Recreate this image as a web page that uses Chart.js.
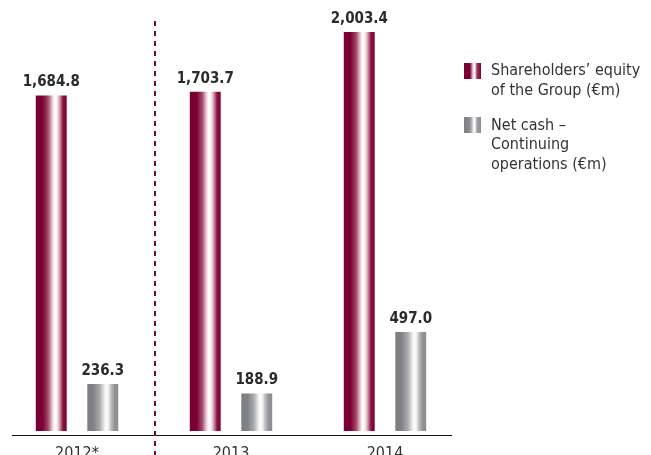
<!DOCTYPE html>
<html>
<head>
<meta charset="utf-8">
<script src="https://cdn.jsdelivr.net/npm/chart.js@4.4.0/dist/chart.umd.min.js"></script>
<style>
  body { margin: 0; background: #fff; }
  #wrap { position: relative; width: 651px; height: 455px; overflow: hidden; }
  .legend {
    position: absolute; left: 464px; top: 60px;
    font-family: "DejaVu Sans Condensed", "Liberation Sans Narrow", sans-serif;
    font-size: 16px; line-height: 19.5px; color: #333;
  }
  .legend .item { position: relative; padding-left: 27px; margin-bottom: 15.5px; white-space: nowrap; }
  .legend .swatch { position: absolute; left: 0; top: 2.5px; width: 17px; height: 16px; }
  .swatch.equity { background: linear-gradient(to right, #7a0034 0%, #7a0034 35%, #e9c6d2 52%, #fff 60%, #fff 64%, #a0385c 76%, #7a0034 100%); }
  .swatch.cash { background: linear-gradient(to right, #7d7e82 0%, #8c8d90 35%, #dcdcdc 52%, #fff 60%, #fff 64%, #a2a3a6 76%, #8a8b8e 100%); }
</style>
</head>
<body>
<div id="wrap">
  <canvas id="equityChart" width="651" height="455"></canvas>
  <div class="legend">
    <div class="item"><span class="swatch equity"></span>Shareholders’ equity<br>of the Group (€m)</div>
    <div class="item"><span class="swatch cash"></span>Net cash –<br>Continuing<br>operations (€m)</div>
  </div>
</div>
<script>
const years = ['2012*', '2013', '2014'];
const equity = [1684.8, 1703.7, 2003.4];
const netCash = [236.3, 188.9, 497.0];

const FONT = '"DejaVu Sans Condensed", "Liberation Sans Narrow", sans-serif';

// Horizontal shading so the bars look like cylinders
const maroonStops = [[0, '#7a0034'], [0.22, '#7a0034'], [0.4, '#a24a6a'], [0.52, '#e2bcc9'], [0.6, '#ffffff'], [0.68, '#fbf2f5'], [0.77, '#d3a0b2'], [0.88, '#8a1343'], [1, '#7a0034']];
const greyStops = [[0, '#7c7d81'], [0.2, '#818286'], [0.4, '#a9aaad'], [0.52, '#dddddd'], [0.6, '#ffffff'], [0.68, '#f3f3f3'], [0.77, '#bdbec0'], [0.88, '#939497'], [1, '#8b8c8f']];

const barShading = {
    id: 'barShading',
    beforeDatasetsDraw(chart) {
        const ctx = chart.ctx;
        chart.data.datasets.forEach((ds, i) => {
            const stops = i === 0 ? maroonStops : greyStops;
            chart.getDatasetMeta(i).data.forEach(bar => {
                const left = bar.x - bar.width / 2;
                const g = ctx.createLinearGradient(left, 0, left + bar.width, 0);
                stops.forEach(([s, c]) => g.addColorStop(s, c));
                bar.options = Object.assign({}, bar.options, { backgroundColor: g });
            });
        });
    }
};

// Value on top of every bar
const valueLabels = {
    id: 'valueLabels',
    afterDatasetsDraw(chart) {
        const ctx = chart.ctx;
        ctx.save();
        ctx.font = 'bold 15px ' + FONT;
        ctx.fillStyle = '#2b2b2b';
        ctx.textAlign = 'center';
        ctx.textBaseline = 'alphabetic';
        chart.data.datasets.forEach((ds, i) => {
            chart.getDatasetMeta(i).data.forEach((bar, j) => {
                const txt = ds.data[j].toLocaleString('en-US', { minimumFractionDigits: 1, maximumFractionDigits: 1 });
                ctx.fillText(txt, bar.x, bar.y - 9);
            });
        });
        ctx.restore();
    }
};

// Base line and the dashed separator after the restated year
const axisDecor = {
    id: 'axisDecor',
    afterDraw(chart) {
        const { ctx, chartArea } = chart;
        const x = chart.scales.x;
        ctx.save();
        ctx.strokeStyle = '#111';
        ctx.lineWidth = 1;
        ctx.beginPath();
        ctx.moveTo(chartArea.left + 12, chartArea.bottom + 0.5);
        ctx.lineTo(chartArea.right - 10, chartArea.bottom + 0.5);
        ctx.stroke();

        const sepX = Math.round((x.getPixelForValue(0) + x.getPixelForValue(1)) / 2) + 1;
        ctx.strokeStyle = '#6e0a36';
        ctx.lineWidth = 2;
        ctx.setLineDash([5, 5]);
        ctx.beginPath();
        ctx.moveTo(sepX, 21);
        ctx.lineTo(sepX, chart.height);
        ctx.stroke();
        ctx.restore();
    }
};

new Chart(document.getElementById('equityChart').getContext('2d'), {
    type: 'bar',
    data: {
        labels: years,
        datasets: [
            {
                label: 'Shareholders’ equity of the Group (€m)',
                data: equity,
                backgroundColor: '#7a0034',
                borderWidth: 0,
                categoryPercentage: 0.669,
                barPercentage: 0.6
            },
            {
                label: 'Net cash – Continuing operations (€m)',
                data: netCash,
                backgroundColor: '#8c8d90',
                borderWidth: 0,
                categoryPercentage: 0.669,
                barPercentage: 0.6
            }
        ]
    },
    options: {
        responsive: false,
        animation: false,
        layout: { padding: { left: 0, right: 189, top: 0, bottom: 0 } },
        scales: {
            x: {
                grid: { display: false },
                border: { display: false },
                ticks: { color: '#333', font: { family: FONT, size: 16 }, padding: 1 },
                afterFit: scale => { scale.height = 20; }
            },
            y: {
                display: false,
                min: -20,
                max: 2164
            }
        },
        plugins: {
            legend: { display: false },
            tooltip: { enabled: false }
        }
    },
    plugins: [barShading, valueLabels, axisDecor]
});
</script>
</body>
</html>
